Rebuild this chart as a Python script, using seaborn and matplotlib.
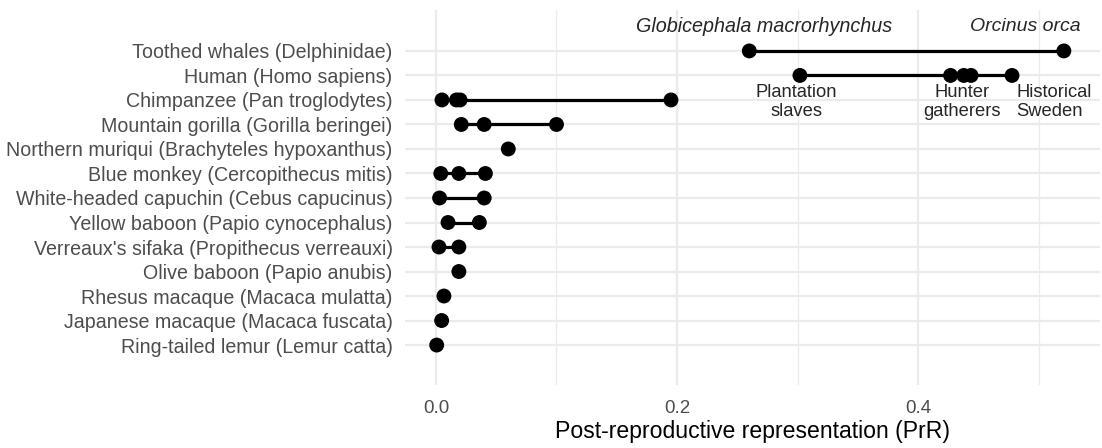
import numpy as np
import pandas as pd
import matplotlib
matplotlib.use("Agg")
import matplotlib.pyplot as plt
import seaborn as sns

species = [
    "Toothed whales (Delphinidae)",
    "Human (Homo sapiens)",
    "Chimpanzee (Pan troglodytes)",
    "Mountain gorilla (Gorilla beringei)",
    "Northern muriqui (Brachyteles hypoxanthus)",
    "Blue monkey (Cercopithecus mitis)",
    "White-headed capuchin (Cebus capucinus)",
    "Yellow baboon (Papio cynocephalus)",
    "Verreaux's sifaka (Propithecus verreauxi)",
    "Olive baboon (Papio anubis)",
    "Rhesus macaque (Macaca mulatta)",
    "Japanese macaque (Macaca fuscata)",
    "Ring-tailed lemur (Lemur catta)",
]
toothed = [0.260, 0.521]
human = [0.302, 0.427, 0.438, 0.444, 0.478]
chimp = [0.005, 0.017, 0.020, 0.195]
gorilla = [0.021, 0.040, 0.100]
muriqui = [0.060]
blue_monkey = [0.004, 0.019, 0.041]
capuchin = [0.003, 0.040]
yellow_baboon = [0.010, 0.036]
sifaka = [0.0025, 0.019]
olive_baboon = [0.019]
rhesus = [0.0066]
japanese = [0.0047]
ringtailed = [0.0006]
values = [toothed, human, chimp, gorilla, muriqui, blue_monkey, capuchin,
          yellow_baboon, sifaka, olive_baboon, rhesus, japanese, ringtailed]

whale_labels = ["Globicephala macrorhynchus", "Orcinus orca"]
human_labels = ["Plantation\nslaves", "Hunter\ngatherers", "Historical\nSweden"]

rows = []
for sp, vals in zip(species, values):
    for v in vals:
        rows.append({"species": sp, "PrR": v})
df = pd.DataFrame(rows)
rng = df.groupby("species", sort=False)["PrR"].agg(["min", "max"]).reset_index()

sns.set_theme(style="whitegrid")
plt.rcParams["font.family"] = ["Liberation Sans", "DejaVu Sans"]

fig = plt.figure(figsize=(11.02, 4.48), dpi=100)
ax = fig.add_axes([405 / 1102, 1 - 385 / 448, 695 / 1102, 375 / 448])

ypos = {sp: i for i, sp in enumerate(species)}
df["y"] = df["species"].map(ypos)
rng["y"] = rng["species"].map(ypos)

ax.hlines(rng["y"], rng["min"], rng["max"], color="black", lw=2.3, zorder=3)
sns.scatterplot(data=df, x="PrR", y="y", color="black", s=115, edgecolor="none",
                zorder=4, ax=ax, legend=False)

ax.set_xlim(-0.0257, 0.551)
ax.set_ylim(13.63, -1.67)
ax.set_yticks(range(len(species)))
ax.set_yticklabels(species)
ax.set_xticks([0.0, 0.2, 0.4])
ax.set_xticklabels(["0.0", "0.2", "0.4"])
ax.set_xticks([0.1, 0.3, 0.5], minor=True)
ax.grid(True, which="major", color="#EBEBEB", lw=1.6)
ax.grid(True, which="minor", axis="x", color="#EBEBEB", lw=0.9)
ax.set_axisbelow(True)
for s in ax.spines.values():
    s.set_visible(False)
ax.tick_params(axis="y", length=0, pad=9, labelsize=14.1, labelcolor="#4D4D4D")
ax.tick_params(axis="x", which="both", length=0, pad=11, labelsize=13.5, labelcolor="#4D4D4D")
ax.set_ylabel("")
ax.set_xlabel("Post-reproductive representation (PrR)", fontsize=16.6, color="black", labelpad=2)

# annotations
ax.text(0.2722, -1.0, whale_labels[0], ha="center", va="center", style="italic", fontsize=14.2)
ax.text(0.489, -1.0, whale_labels[1], ha="center", va="center", style="italic", fontsize=14.0)
ax.text(0.299, 1.36, human_labels[0], ha="center", va="top", fontsize=13.2, linespacing=1.1)
ax.text(0.4365, 1.36, human_labels[1], ha="center", va="top", fontsize=13.2, linespacing=1.1)
ax.text(0.4815, 1.36, human_labels[2], ha="left", va="top", fontsize=13.2, linespacing=1.1)

fig.savefig("out.png", dpi=100)
